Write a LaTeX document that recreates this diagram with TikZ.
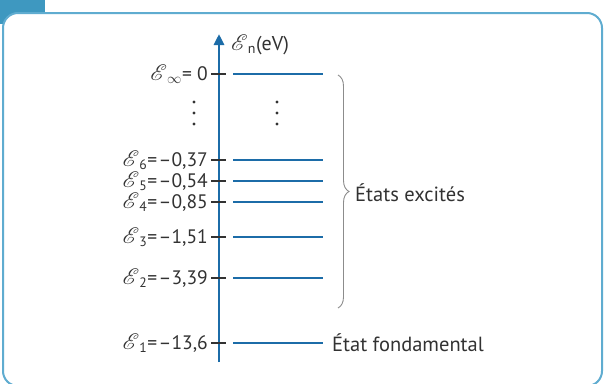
\documentclass[tikz,border=0pt]{standalone}
\usepackage{fontspec}
\setmainfont{PT Sans}
\usepackage{mathrsfs}
\usetikzlibrary{arrows.meta,decorations.pathreplacing}
\definecolor{frameblue}{RGB}{95,172,208}
\definecolor{tabblue}{RGB}{62,152,192}
\definecolor{axisblue}{RGB}{28,108,168}
\definecolor{txt}{RGB}{50,50,50}
\definecolor{bracegray}{RGB}{140,140,140}
\newcommand{\sE}{\scalebox{1.08}{$\mathscr{E}$}}
\newcommand{\eqm}{=\kern1.5pt–}
\begin{document}
\begin{tikzpicture}[x=1pt,y=-1pt,
  lbl/.style={anchor=east,text=txt,font=\fontsize{19.5}{22}\selectfont,inner sep=0pt},
  txtlbl/.style={anchor=west,text=txt,font=\fontsize{20.5}{22}\selectfont,inner sep=0pt},
  level/.style={draw=axisblue,line width=1.7pt},
  tickmark/.style={draw=txt,line width=1.3pt},
  dotmark/.style={fill=txt,circle,inner sep=0pt,minimum size=3.4pt}]
\useasboundingbox (0,0) rectangle (605,383);
% frame and tab
\fill[tabblue] (0,0) rectangle (45,24);
\draw[frameblue,fill=white,line width=2pt,rounded corners=15pt] (3,13) rectangle (602,386);
% axis
\coordinate (axbot) at (219,362);
\coordinate (axtop) at (219,34);
\draw[axisblue,line width=2.8pt,-{Triangle[width=10pt,length=11pt]}] (axbot) -- (axtop);
\node[anchor=west,text=txt,font=\fontsize{20}{22}\selectfont,inner sep=0pt] (axlab) at (231,45) {\sE\textsubscript{n}(eV)};
% levels
\foreach \nm/\yy/\txt in {inf/74/{\sE\textsubscript{$\infty$}= 0},
  six/160/{\sE\textsubscript{6}\eqm0,37},
  five/181/{\sE\textsubscript{5}\eqm0,54},
  four/202/{\sE\textsubscript{4}\eqm0,85},
  three/237/{\sE\textsubscript{3}\eqm1,51},
  two/278/{\sE\textsubscript{2}\eqm3,39},
  one/343/{\sE\textsubscript{1}\eqm13,6}}{
  \coordinate (t1\nm) at (211,\yy);
  \coordinate (t2\nm) at (226,\yy);
  \coordinate (l1\nm) at (233,\yy);
  \coordinate (l2\nm) at (323,\yy);
  \draw[tickmark] (t1\nm) -- (t2\nm);
  \draw[level] (l1\nm) -- (l2\nm);
  \node[lbl] (lab\nm) at (208,\yy) {\txt};
}
% dots
\foreach \i/\yy in {1/102,2/113,3/124}{
  \node[dotmark] (dl\i) at (194,\yy) {};
  \node[dotmark] (dr\i) at (277,\yy) {};
}
% brace
\coordinate (btop) at (338,75);
\coordinate (bbot) at (338,308);
\draw[bracegray,line width=0.9pt,decorate,decoration={brace,amplitude=11pt,aspect=0.5}] (btop) -- (bbot);
\node[txtlbl] (exc) at (355,193) {États excités};
\node[txtlbl] (fond) at (332,343) {État fondamental};
\end{tikzpicture}
\end{document}
